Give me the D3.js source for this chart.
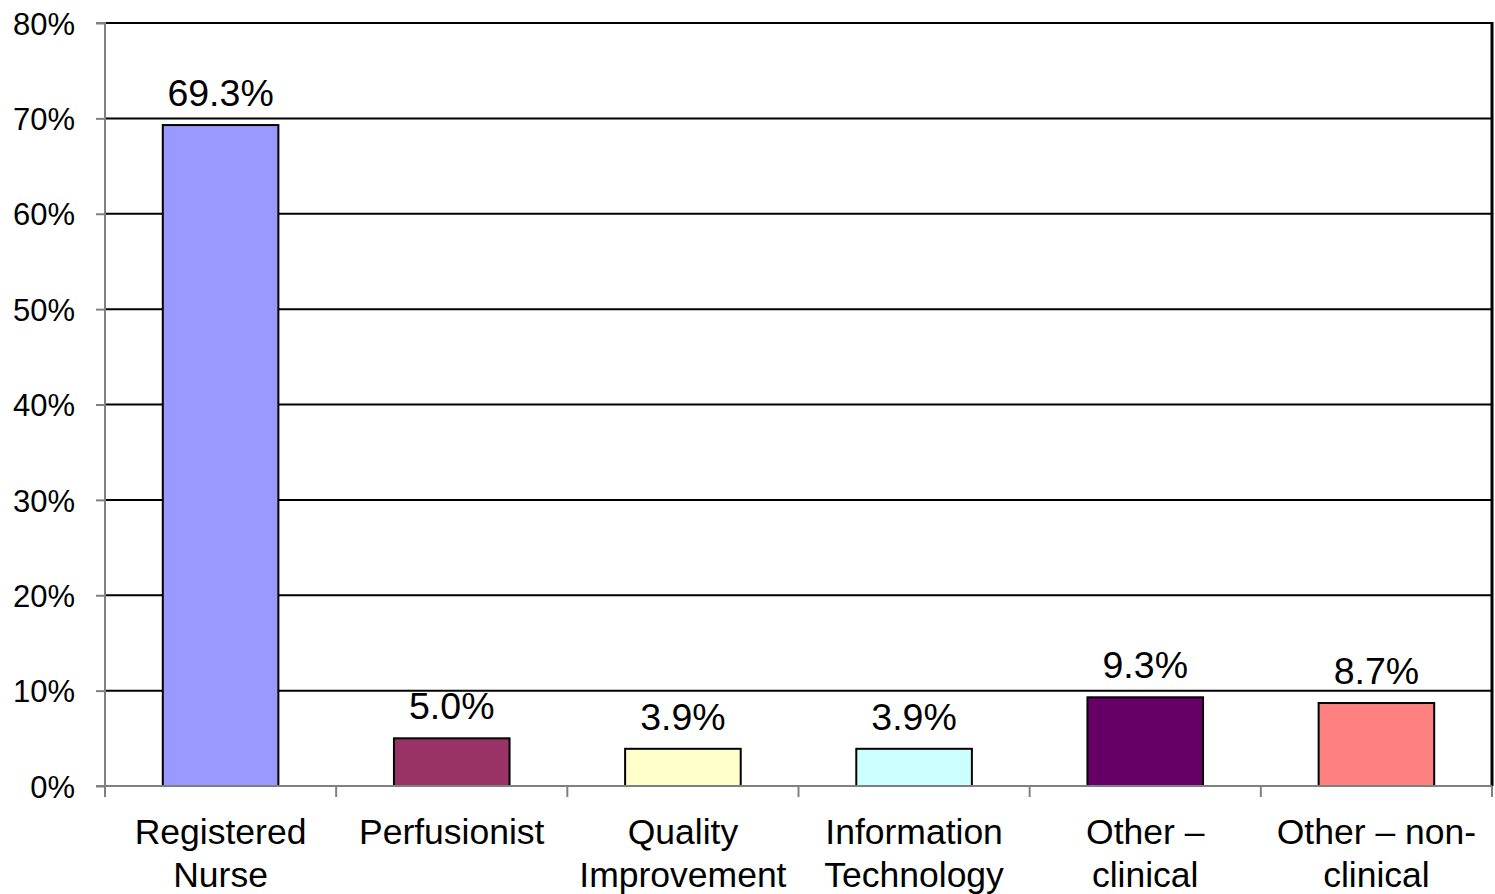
<!DOCTYPE html>
<html>
<head>
<meta charset="utf-8">
<script src="https://cdn.jsdelivr.net/npm/d3@7"></script>
<style>
html,body{margin:0;padding:0;background:#fff;}
svg{display:block;font-family:"Liberation Sans",Arial,sans-serif;}
</style>
</head>
<body>
<svg id="chart" width="1495" height="894"></svg>
<script>
const categories = [["Registered","Nurse"],["Perfusionist"],["Quality","Improvement"],["Information","Technology"],["Other \u2013","clinical"],["Other \u2013 non-","clinical"]];
const values = [69.3, 5.0, 3.9, 3.9, 9.3, 8.7];
const colors = ["#9999FF","#993366","#FFFFCC","#CCFFFF","#660066","#FF8080"];
const yTicks = [0,10,20,30,40,50,60,70,80];

(function(){
const svg = d3.select("#chart");
const pLeft = 105, pRight = 1492, pTop = 23, pBottom = 786;

const x = d3.scaleBand().domain(d3.range(categories.length)).range([pLeft, pRight]).paddingInner(0.5).paddingOuter(0.25);
const xOuter = d3.scaleBand().domain(d3.range(categories.length)).range([pLeft, pRight]);
const y = d3.scaleLinear().domain([0, 80]).range([pBottom, pTop]);

// gridlines
svg.append("g").selectAll("line").data(yTicks.filter(d => d > 0)).join("line")
  .attr("x1", pLeft).attr("x2", pRight)
  .attr("y1", d => y(d)).attr("y2", d => y(d))
  .attr("stroke", "#000").attr("stroke-width", 2);

// right border
svg.append("line").attr("x1", pRight).attr("x2", pRight).attr("y1", pTop - 1).attr("y2", pBottom)
  .attr("stroke", "#000").attr("stroke-width", 3);

// bars
svg.append("g").selectAll("rect").data(values).join("rect")
  .attr("x", (d, i) => x(i)).attr("width", x.bandwidth())
  .attr("y", d => y(d)).attr("height", d => pBottom - y(d))
  .attr("fill", (d, i) => colors[i]).attr("stroke", "#000").attr("stroke-width", 2);

// data labels
svg.append("g").selectAll("text").data(values).join("text")
  .attr("x", (d, i) => x(i) + x.bandwidth() / 2)
  .attr("y", d => y(d) - 19)
  .attr("text-anchor", "middle").attr("font-size", 37.5).attr("fill", "#000")
  .text(d => d.toFixed(1) + "%");

// y axis
const yAxis = d3.axisLeft(y).tickValues(yTicks).tickFormat(d => d + "%").tickSize(9).tickPadding(21);
const gy = svg.append("g").attr("transform", `translate(${pLeft},0)`).call(yAxis);
gy.select(".domain").attr("stroke", "#808080").attr("stroke-width", 2).attr("d", `M-9,${pTop}H0V${pBottom}H-9`);
gy.selectAll(".tick line").attr("stroke", "#808080").attr("stroke-width", 2);
gy.selectAll(".tick text").attr("font-size", 31).attr("fill", "#000").attr("dy", "0.36em")
  .attr("font-family", "'Liberation Sans',Arial,sans-serif");

// x axis
const gx = svg.append("g").attr("transform", `translate(0,${pBottom})`);
gx.append("line").attr("x1", pLeft).attr("x2", pRight).attr("stroke", "#808080").attr("stroke-width", 2);
const tickPos = d3.range(categories.length + 1).map(i => i < categories.length ? xOuter(i) : pRight);
gx.selectAll("line.tk").data(tickPos).join("line").attr("class", "tk")
  .attr("x1", d => d).attr("x2", d => d).attr("y1", 0).attr("y2", 11)
  .attr("stroke", "#808080").attr("stroke-width", 2);

const labels = gx.selectAll("text.cat").data(categories).join("text").attr("class", "cat")
  .attr("text-anchor", "middle").attr("font-size", 35.5).attr("fill", "#000");
labels.each(function(lines, i) {
  const t = d3.select(this);
  lines.forEach((ln, j) => {
    t.append("tspan").attr("x", x(i) + x.bandwidth() / 2).attr("y", 58 + j * 43).text(ln);
  });
});
})();
</script>
</body>
</html>
